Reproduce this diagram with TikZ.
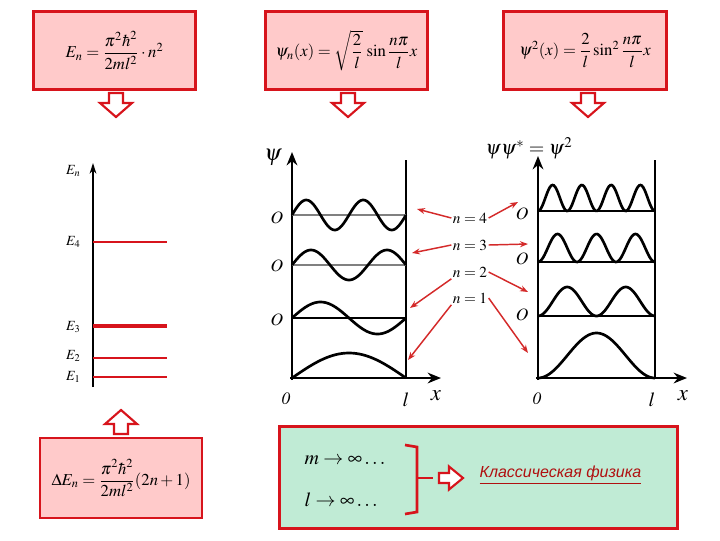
\documentclass[tikz,border=0pt]{standalone}
\usepackage{mathptmx}
\usepackage{amsmath}
\usepackage{fontspec}
\newfontfamily\rufont{Liberation Sans}
\usetikzlibrary{arrows.meta,positioning}
\definecolor{boxred}{HTML}{D7141C}
\definecolor{boxpink}{HTML}{FFCACA}
\definecolor{boxmint}{HTML}{C0EBD5}
\definecolor{ptred}{HTML}{D42A2A}
\definecolor{txtred}{HTML}{B01010}

\tikzset{
  formbox/.style={draw=boxred, line width=2.2pt, fill=boxpink, inner sep=0pt,
    minimum width=122pt, minimum height=59pt, font=\fontsize{12.5}{14}\selectfont},
  axis/.style={line width=2.2pt, -{Stealth[length=10pt,width=8pt]}},
  wave/.style={line width=2pt, samples=90, smooth, domain=0:1},
  base/.style={line width=1pt},
  level/.style={draw=boxred},
  lbl/.style={inner sep=1pt, font=\fontsize{13}{15}\selectfont},
  elbl/.style={inner sep=1pt, anchor=east, font=\fontsize{10.5}{12}\selectfont},
  pointer/.style={draw=ptred, line width=1.1pt, -{Stealth[length=6pt,width=4.5pt]}},
  blockarrow/.pic={
    \draw[draw=boxred, fill=white, line width=1.6pt, line join=miter]
      (-7,-12) -- (7,-12) -- (7,-2) -- (16,-2) -- (0,12) -- (-16,-2) -- (-7,-2) -- cycle;}
}

\begin{document}
\begin{tikzpicture}[x=0.75pt,y=-0.75pt]
  \useasboundingbox (0,0) rectangle (720,540);

  % formula boxes
  \node[formbox] (enbox) at (114.5,50.5) {$E_n=\dfrac{\pi^2\hbar^2}{2ml^2}\cdot n^2$};
  \node[formbox] (psibox) at (346.5,50.5) {$\psi_n(x)=\sqrt{\dfrac{2}{l}}\,\sin\dfrac{n\pi}{l}x$};
  \node[formbox] (sqbox) at (585,50.5) {$\psi^2(x)=\dfrac{2}{l}\sin^2\dfrac{n\pi}{l}x$};
  \node[formbox, minimum width=121.5pt, minimum height=60pt] (debox) at (121,478)
    {$\Delta E_n=\dfrac{\pi^2\hbar^2}{2ml^2}(2n+1)$};
  \node[formbox, fill=boxmint, minimum width=298pt, minimum height=76pt] (limbox) at (478.5,477.5) {};

  \pic at (116,105) {blockarrow};
  \pic at (348,105) {blockarrow};
  \pic at (588,105) {blockarrow};
  \pic[rotate=180] at (121,422) {blockarrow};

  % energy levels
  \draw[line width=1.6pt, -{Stealth[length=8pt,width=5pt]}] (93,387) -- (93,163);
  \node[elbl] (en) at (82,171) {$E_n$};
  \draw[level, line width=1.2pt] (93,242) -- (167,242);
  \draw[level, line width=2.6pt] (93,326) -- (167,326);
  \draw[level, line width=1.6pt] (93,358) -- (167,358);
  \draw[level, line width=1.6pt] (93,377) -- (167,377);
  \node[elbl] (e4) at (82,242) {$E_4$};
  \node[elbl] (e3) at (82,327) {$E_3$};
  \node[elbl] (e2) at (82,356) {$E_2$};
  \node[elbl] (e1) at (82,377) {$E_1$};

  % wave functions
  \draw[axis] (292,380) -- (292,152);
  \draw[line width=2.2pt] (406,160) -- (406,379);
  \draw[axis] (290,378) -- (441,378);
  \draw[base, gray] (292,215) -- (406,215);
  \draw[base, gray] (292,265) -- (406,265);
  \draw[base] (292,318) -- (406,318);
  \draw[wave] plot ({292+114*\x},{215-15*sin(4*180*\x)});
  \draw[wave] plot ({292+114*\x},{265-15*sin(3*180*\x)});
  \draw[wave] plot ({292+114*\x},{318-16*sin(2*180*\x)});
  \draw[wave] plot ({292+114*\x},{378-25*sin(180*\x)});
  \node[lbl, font=\fontsize{17}{19}\selectfont] (psi) at (273,157) {$\psi$};
  \node[lbl] (o4) at (277,218) {$O$};
  \node[lbl] (o3) at (277,266) {$O$};
  \node[lbl] (o2) at (277,320) {$O$};
  \node[lbl] (zero1) at (286,399) {$\mathit{0}$};
  \node[lbl, font=\fontsize{15}{17}\selectfont] (len1) at (406,400) {$l$};
  \node[lbl, font=\fontsize{17}{19}\selectfont] (x1) at (436,396) {$x$};

  % probability densities
  \draw[axis] (538,380) -- (538,156);
  \draw[line width=2.2pt] (655,160) -- (655,379);
  \draw[axis] (536,378) -- (687,378);
  \draw[base] (538,211) -- (655,211);
  \draw[base] (538,262) -- (655,262);
  \draw[base] (538,316) -- (655,316);
  \draw[wave] plot ({538+117*\x},{211-26*(sin(4*180*\x))^2});
  \draw[wave] plot ({538+117*\x},{262-28*(sin(3*180*\x))^2});
  \draw[wave] plot ({538+117*\x},{316-29*(sin(2*180*\x))^2});
  \draw[wave] plot ({538+117*\x},{378-45*(sin(180*\x))^2});
  \node[lbl, font=\fontsize{15}{17}\selectfont] (dens) at (529,148) {$\psi\psi^{*}=\psi^{2}$};
  \node[lbl] (q4) at (522,214) {$O$};
  \node[lbl] (q3) at (522,259) {$O$};
  \node[lbl] (q2) at (522,315) {$O$};
  \node[lbl] (zero2) at (537,399) {$\mathit{0}$};
  \node[lbl, font=\fontsize{15}{17}\selectfont] (len2) at (652,400) {$l$};
  \node[lbl, font=\fontsize{17}{19}\selectfont] (x2) at (683,396) {$x$};

  % quantum numbers
  \node[lbl, font=\fontsize{11.5}{13}\selectfont] (n4) at (470,218) {$n=4$};
  \node[lbl, font=\fontsize{11.5}{13}\selectfont] (n3) at (470,245) {$n=3$};
  \node[lbl, font=\fontsize{11.5}{13}\selectfont] (n2) at (470,272) {$n=2$};
  \node[lbl, font=\fontsize{11.5}{13}\selectfont] (n1) at (470,298) {$n=1$};
  \coordinate (l4) at (417,209);
  \coordinate (l3) at (412,253);
  \coordinate (l2) at (410,308);
  \coordinate (l1) at (408,360);
  \coordinate (r4) at (518,202);
  \coordinate (r3) at (528,244);
  \coordinate (r2) at (528,292);
  \coordinate (r1) at (528,353);
  \draw[pointer] (n4.west) -- (l4);
  \draw[pointer] (n4.east) -- (r4);
  \draw[pointer] (n3.west) -- (l3);
  \draw[pointer] (n3.east) -- (r3);
  \draw[pointer] (n2.south west) -- (l2);
  \draw[pointer] (n2.east) -- (r2);
  \draw[pointer] (n1.south west) -- (l1);
  \draw[pointer] (n1.east) -- (r1);

  % classical limit
  \node[lbl, anchor=west, font=\fontsize{15}{17}\selectfont] (mlim) at (303,460) {$m\to\infty\ldots$};
  \node[lbl, anchor=west, font=\fontsize{15}{17}\selectfont] (llim) at (303,500) {$l\to\infty\ldots$};
  \draw[boxred, line width=2pt] (405,445) -- (417,447) -- (417,512) -- (405,514);
  \draw[boxred, line width=2pt] (417,478) -- (433,478);
  \pic[rotate=90, xscale=0.72] at (451,478) {blockarrow};
  \node[lbl, anchor=west, text=txtred, font=\rufont\itshape\fontsize{12}{14}\selectfont]
    (classic) at (478,475) {\underline{Классическая физика}};
\end{tikzpicture}
\end{document}
